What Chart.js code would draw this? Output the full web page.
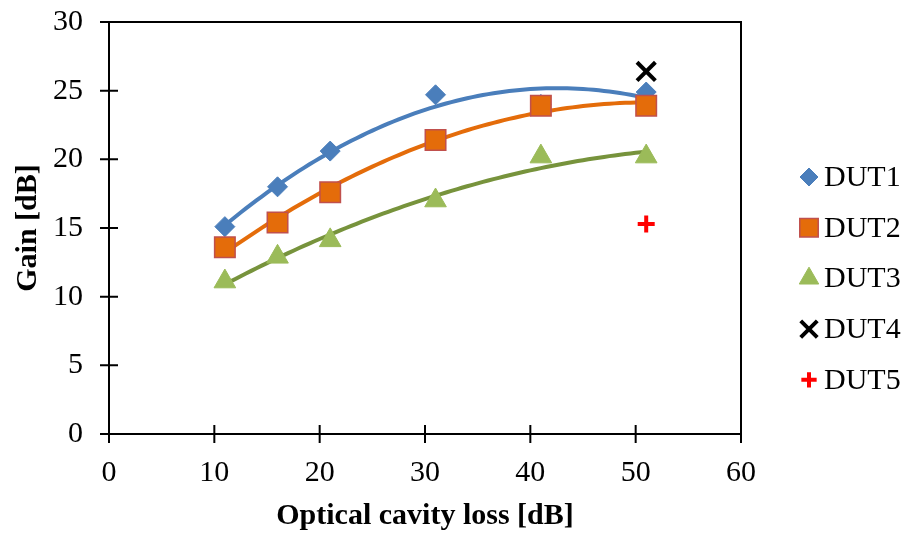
<!DOCTYPE html>
<html lang="en">
<head>
  <meta charset="UTF-8">
  <title>Gain vs optical cavity loss</title>
  <style>
    body { margin: 0; background: #ffffff; }
    #wrap { width: 909px; height: 534px; }
  </style>
</head>
<body>
  <div id="wrap"><canvas id="gainChart"></canvas></div>

  <script src="https://cdn.jsdelivr.net/npm/chart.js"></script>
  <script>
    // values
    const lossDB = [11, 16, 21, 31, 41, 51];
    const dut1 = [15.1, 18.0, 20.6, 24.7, 24.0, 24.9];
    const dut2 = [13.6, 15.4, 17.6, 21.4, 23.9, 23.9];
    const dut3 = [11.1, 12.9, 14.1, 17.0, 20.2, 20.2];
    const dut4X = [51], dut4 = [26.4];
    const dut5X = [51], dut5 = [15.3];

    const serif = "'Times New Roman', 'Liberation Serif', serif";

    // excel style 2nd order polynomial trendline (least squares)
    function polyFit2(xs, ys) {
      let s = [0, 0, 0, 0, 0], t = [0, 0, 0];
      xs.forEach((x, i) => {
        for (let k = 0; k < 5; k++) s[k] += Math.pow(x, k);
        for (let k = 0; k < 3; k++) t[k] += ys[i] * Math.pow(x, k);
      });
      const m = [[s[0], s[1], s[2], t[0]], [s[1], s[2], s[3], t[1]], [s[2], s[3], s[4], t[2]]];
      for (let c = 0; c < 3; c++) {
        for (let r = c + 1; r < 3; r++) {
          const f = m[r][c] / m[c][c];
          for (let k = c; k < 4; k++) m[r][k] -= f * m[c][k];
        }
      }
      const a = [0, 0, 0];
      for (let r = 2; r >= 0; r--) {
        let v = m[r][3];
        for (let k = r + 1; k < 3; k++) v -= m[r][k] * a[k];
        a[r] = v / m[r][r];
      }
      return a;
    }

    function trend(xs, ys) {
      const a = polyFit2(xs, ys);
      const pts = [];
      for (let x = xs[0]; x <= xs[xs.length - 1] + 1e-9; x += 0.5) {
        pts.push({ x: x, y: a[0] + a[1] * x + a[2] * x * x });
      }
      return pts;
    }

    const toPts = (xs, ys) => xs.map((x, i) => ({ x: x, y: ys[i] }));

    // later series sit on top, like in the spreadsheet
    function markerSet(label, xs, ys, style, radius, fill, border, bw, order) {
      return {
        type: "scatter", label: label, data: toPts(xs, ys), order: order,
        pointStyle: style, pointRadius: radius, pointHoverRadius: radius,
        backgroundColor: fill, borderColor: border, borderWidth: bw, showLine: false
      };
    }

    function trendSet(xs, ys, color) {
      return {
        type: "line", label: "", data: trend(xs, ys), order: 10,
        borderColor: color, borderWidth: 4, pointRadius: 0, tension: 0, fill: false
      };
    }

    const markers = [
      markerSet("DUT1", lossDB, dut1, "rectRot", 10, "#4A7EBB", "#4A7EBB", 1, 5),
      markerSet("DUT2", lossDB, dut2, "rect", 14.5, "#E46C0A", "#C0504D", 1.5, 4),
      markerSet("DUT3", lossDB, dut3, "triangle", 12.5, "#9BBB59", "#9BBB59", 1, 3),
      markerSet("DUT4", dut4X, dut4, "crossRot", 13, "#000000", "#000000", 4, 2),
      markerSet("DUT5", dut5X, dut5, "cross", 8.5, "#FF0000", "#FF0000", 4, 1)
    ];

    // frame, crossing tick marks and a side legend
    const frameAndLegend = {
      id: "frameAndLegend",
      afterDraw(chart) {
        const ctx = chart.ctx, a = chart.chartArea;
        const xs = chart.scales.x, ys = chart.scales.y;
        ctx.save();
        ctx.strokeStyle = "#000";
        ctx.lineWidth = 2;
        ctx.strokeRect(a.left, a.top, a.right - a.left, a.bottom - a.top);
        ctx.beginPath();
        xs.ticks.forEach(t => {
          const px = xs.getPixelForValue(t.value);
          ctx.moveTo(px, a.bottom - 9); ctx.lineTo(px, a.bottom + 9);
        });
        ys.ticks.forEach(t => {
          const py = ys.getPixelForValue(t.value);
          ctx.moveTo(a.left - 9, py); ctx.lineTo(a.left + 9, py);
        });
        ctx.stroke();

        ctx.font = "30px " + serif;
        ctx.textBaseline = "middle";
        ctx.textAlign = "left";
        markers.forEach((ds, i) => {
          const y = 177 + 50.7 * i;
          ctx.fillStyle = ds.backgroundColor;
          ctx.strokeStyle = ds.borderColor;
          ctx.lineWidth = ds.borderWidth;
          Chart.helpers.drawPoint(ctx, {
            pointStyle: ds.pointStyle, radius: ds.pointRadius * 0.9,
            rotation: 0, borderWidth: ds.borderWidth
          }, 809, y);
          ctx.fillStyle = "#000";
          ctx.fillText(ds.label, 824, y + 1);
        });
        ctx.restore();
      }
    };

    new Chart(document.getElementById("gainChart"), {
      data: {
        datasets: markers.concat([
          trendSet(lossDB, dut1, "#4A7EBB"),
          trendSet(lossDB, dut2, "#E46C0A"),
          trendSet(lossDB, dut3, "#77933C")
        ])
      },
      options: {
        responsive: true,
        maintainAspectRatio: false,
        animation: false,
        layout: { padding: { left: 0, top: 22, right: 168, bottom: 0 } },
        plugins: {
          legend: { display: false },
          tooltip: { enabled: false }
        },
        scales: {
          x: {
            type: "linear", min: 0, max: 60,
            ticks: { stepSize: 10, color: "#000", padding: 13, font: { family: serif, size: 30 } },
            grid: { display: false },
            border: { display: false },
            title: { display: true, text: "Optical cavity loss [dB]", color: "#000",
                     font: { family: serif, size: 30, weight: "bold" }, padding: { top: 0, bottom: 0 } },
            afterFit(scale) { scale.height = 100; scale.paddingLeft = 0; scale.paddingRight = 0; }
          },
          y: {
            type: "linear", min: 0, max: 30,
            ticks: { stepSize: 5, color: "#000", padding: 18, font: { family: serif, size: 30 } },
            grid: { display: false },
            border: { display: false },
            title: { display: true, text: "Gain [dB]", color: "#000",
                     font: { family: serif, size: 30, weight: "bold" }, padding: { top: 10, bottom: 0 } },
            afterFit(scale) { scale.width = 109; scale.paddingTop = 0; scale.paddingBottom = 0; }
          }
        }
      },
      plugins: [frameAndLegend]
    });
  </script>
</body>
</html>
